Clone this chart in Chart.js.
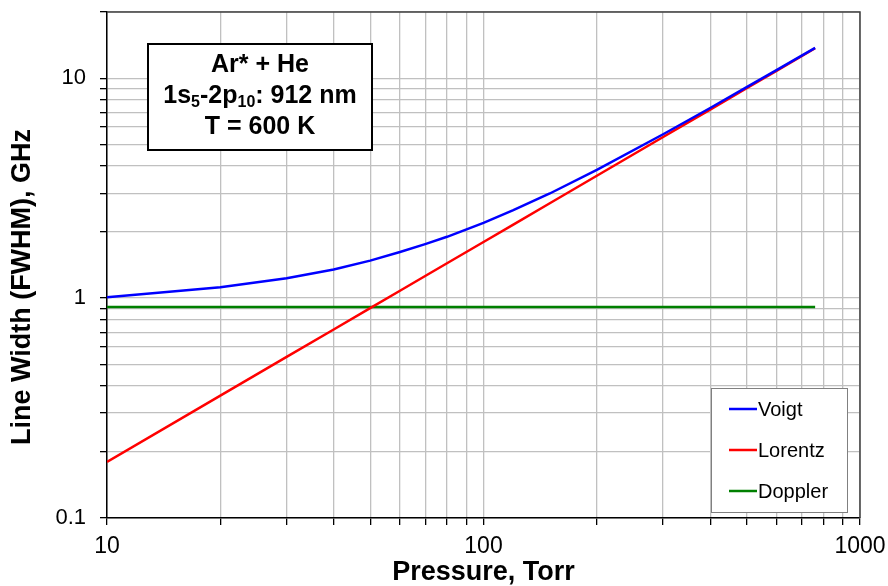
<!DOCTYPE html>
<html>
<head>
<meta charset="utf-8">
<script src="https://cdn.jsdelivr.net/npm/chart.js@4"></script>
<style>
  html, body { margin: 0; padding: 0; background: #fff; }
  #wrap { width: 888px; height: 586px; }
</style>
</head>
<body>
<div id="wrap"><canvas id="widthChart" width="888" height="586"></canvas></div>
<script>
// pressure in Torr
const pressure = [10, 20, 30, 40, 50, 60, 70, 80, 100, 120, 150, 200, 300, 400, 500, 600, 760];
// line widths in GHz
const voigt   = [1.01, 1.12, 1.23, 1.35, 1.48, 1.62, 1.76, 1.90, 2.20, 2.51, 2.99, 3.83, 5.56, 7.32, 9.10, 10.88, 13.74];
const lorentz = [0.18, 0.36, 0.54, 0.72, 0.90, 1.08, 1.26, 1.44, 1.80, 2.16, 2.70, 3.60, 5.40, 7.20, 9.00, 10.80, 13.68];
const doppler = [0.91, 0.91, 0.91, 0.91, 0.91, 0.91, 0.91, 0.91, 0.91, 0.91, 0.91, 0.91, 0.91, 0.91, 0.91, 0.91, 0.91];

const xTicks = [10, 20, 30, 40, 50, 60, 70, 80, 90, 100, 200, 300, 400, 500, 600, 700, 800, 900, 1000];
const yTicks = [0.1, 0.2, 0.3, 0.4, 0.5, 0.6, 0.7, 0.8, 0.9, 1, 2, 3, 4, 5, 6, 7, 8, 9, 10, 20];
const xLabels = [10, 100, 1000];
const yLabels = [0.1, 1, 10];

const seriesNames = ['Voigt', 'Lorentz', 'Doppler'];
const seriesColors = ['#0000ff', '#ff0000', '#008000'];

const FONT = '"Liberation Sans", Arial, sans-serif';

function points(vals) {
    return pressure.map((p, i) => ({ x: p, y: vals[i] }));
}

// frame, axis titles, info box and legend box
const decorPlugin = {
    id: 'decor',
    afterDatasetsDraw(chart) {
        const ctx = chart.ctx;
        const a = chart.chartArea;
        ctx.save();
        // top/right frame
        ctx.strokeStyle = '#404040';
        ctx.lineWidth = 1.5;
        ctx.beginPath();
        ctx.moveTo(a.left, a.top);
        ctx.lineTo(a.right, a.top);
        ctx.lineTo(a.right, a.bottom);
        ctx.stroke();

        // axis titles
        ctx.fillStyle = '#000';
        ctx.font = 'bold 27px ' + FONT;
        ctx.textAlign = 'center';
        ctx.textBaseline = 'middle';
        ctx.fillText('Pressure, Torr', (a.left + a.right) / 2, 573);
        ctx.save();
        ctx.translate(23, 287);
        ctx.rotate(-Math.PI / 2);
        ctx.fillText('Line Width (FWHM), GHz', 0, 0);
        ctx.restore();

        // info box
        ctx.fillStyle = '#fff';
        ctx.fillRect(148, 44, 224, 106);
        ctx.strokeStyle = '#000';
        ctx.lineWidth = 2;
        ctx.strokeRect(148, 44, 224, 106);
        ctx.fillStyle = '#000';
        ctx.textBaseline = 'middle';
        ctx.textAlign = 'center';
        const big = 'bold 25px ' + FONT;
        const small = 'bold 16px ' + FONT;
        ctx.font = big;
        const cx = 260;
        ctx.fillText('Ar* + He', cx, 65);
        ctx.fillText('T = 600 K', cx, 127);
        // line with subscripts
        const parts = [['1s', big, 0], ['5', small, 7], ['-2p', big, 0], ['10', small, 7], [': 912 nm', big, 0]];
        let total = 0;
        parts.forEach(pt => { ctx.font = pt[1]; total += ctx.measureText(pt[0]).width; });
        let x = cx - total / 2;
        ctx.textAlign = 'left';
        parts.forEach(pt => {
            ctx.font = pt[1];
            ctx.fillText(pt[0], x, 96 + pt[2]);
            x += ctx.measureText(pt[0]).width;
        });

        // legend box
        ctx.fillStyle = '#fff';
        ctx.fillRect(711, 388, 136, 124);
        ctx.strokeStyle = '#808080';
        ctx.lineWidth = 1;
        ctx.strokeRect(711.5, 388.5, 136, 124);
        ctx.font = '20px ' + FONT;
        ctx.textAlign = 'left';
        seriesNames.forEach((n, i) => {
            const y = 409 + i * 41;
            ctx.strokeStyle = seriesColors[i];
            ctx.lineWidth = 2.5;
            ctx.beginPath();
            ctx.moveTo(729, y);
            ctx.lineTo(757, y);
            ctx.stroke();
            ctx.fillStyle = '#000';
            ctx.fillText(n, 758, y + 1);
        });
        ctx.restore();
    }
};

const ctx = document.getElementById('widthChart').getContext('2d');
const chart = new Chart(ctx, {
    type: 'line',
    data: {
        datasets: [
            { label: 'Voigt', data: points(voigt), borderColor: seriesColors[0], borderWidth: 2.5, pointRadius: 0, tension: 0 },
            { label: 'Lorentz', data: points(lorentz), borderColor: seriesColors[1], borderWidth: 2.5, pointRadius: 0, tension: 0 },
            { label: 'Doppler', data: points(doppler), borderColor: seriesColors[2], borderWidth: 2.5, pointRadius: 0, tension: 0 }
        ]
    },
    options: {
        responsive: false,
        animation: false,
        layout: { padding: { top: 12, right: 28, left: 0, bottom: 0 } },
        plugins: { legend: { display: false }, tooltip: { enabled: false } },
        scales: {
            x: {
                type: 'logarithmic',
                min: 10,
                max: 1000,
                afterBuildTicks(scale) { scale.ticks = xTicks.map(v => ({ value: v })); },
                afterFit(scale) {
                    scale.height = 68;
                    scale.paddingLeft = 0;
                    scale.paddingRight = 0;
                },
                ticks: {
                    autoSkip: false,
                    maxRotation: 0,
                    color: '#000',
                    padding: 8,
                    font: { family: FONT, size: 23 },
                    callback: v => xLabels.includes(v) ? String(v) : ''
                },
                grid: { color: '#c0c0c0', tickColor: '#000', tickLength: 7, lineWidth: 1.3 },
                border: { color: '#000', width: 1.5 }
            },
            y: {
                type: 'logarithmic',
                min: 0.1,
                max: 20,
                afterBuildTicks(scale) { scale.ticks = yTicks.map(v => ({ value: v })); },
                afterFit(scale) {
                    scale.width = 107;
                    scale.paddingTop = 0;
                    scale.paddingBottom = 0;
                },
                ticks: {
                    autoSkip: false,
                    color: '#000',
                    padding: 14,
                    font: { family: FONT, size: 22 },
                    callback: v => yLabels.includes(v) ? String(v) : ''
                },
                grid: { color: '#c0c0c0', tickColor: '#000', tickLength: 7, lineWidth: 1.3 },
                border: { color: '#000', width: 1.5 }
            }
        }
    },
    plugins: [decorPlugin]
});
</script>
</body>
</html>
